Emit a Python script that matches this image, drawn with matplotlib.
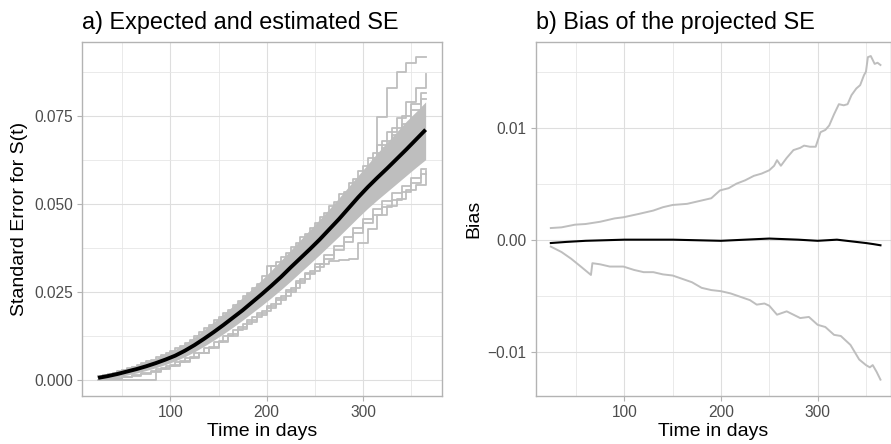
import matplotlib
matplotlib.use("Agg")
import matplotlib.pyplot as plt
import numpy as np

plt.rcParams['font.family'] = ['Liberation Sans', 'DejaVu Sans']

# ---------------- Panel a data ----------------
t_grid = [25, 35, 45, 55, 65, 75, 85, 95, 105, 115, 125, 135, 145, 155, 165, 175,
          185, 195, 205, 215, 225, 235, 245, 255, 265, 275, 285, 295, 305, 315,
          325, 335, 345, 355, 365]
t_grid_b = [30, 40, 50, 60, 70, 80, 90, 100, 110, 120, 130, 140, 150, 160, 170, 180,
            190, 200, 210, 220, 230, 240, 250, 260, 270, 280, 290, 300, 310, 320,
            330, 340, 350, 360, 365]

se_expected = [.0006, .0011, .0017, .0024, .0031, .0039, .0048, .0058, .0069, .0083,
               .0099, .0117, .0136, .0156, .0177, .0198, .0221, .0244, .0268, .0293,
               .0320, .0346, .0372, .0399, .0428, .0457, .0488, .0519, .0548, .0575,
               .0601, .0628, .0655, .0683, .0711]

# dense core of the simulated SE curves (lower / upper edge of the solid band)
se_core_lo = [.0002, .0005, .0009, .0014, .0020, .0027, .0035, .0044, .0054, .0066,
              .0080, .0096, .0113, .0131, .0150, .0170, .0191, .0212, .0234, .0257,
              .0281, .0306, .0331, .0356, .0382, .0408, .0435, .0462, .0488, .0512,
              .0535, .0558, .0581, .0604, .0626]
se_core_hi = [.0010, .0016, .0024, .0032, .0041, .0051, .0062, .0074, .0087, .0103,
              .0122, .0143, .0165, .0187, .0210, .0234, .0259, .0285, .0312, .0340,
              .0369, .0398, .0427, .0456, .0486, .0517, .0549, .0581, .0613, .0645,
              .0675, .0705, .0735, .0762, .0790]

# individual simulated SE step curves (read from the band)
se_sim_u1 = [.0011, .0018, .0026, .0034, .0043, .0053, .0064, .0076, .0090, .0106,
             .0125, .0147, .0170, .0190, .0212, .0238, .0262, .0295, .0325, .0350,
             .0378, .0405, .0432, .0462, .0495, .0528, .0560, .0595, .0632, .0668,
             .0705, .0745, .0790, .0830, .0870]
se_sim_l1 = [.0000, .0000, .0000, .0000, .0000, .0000, .0030, .0040, .0050, .0062,
             .0076, .0092, .0108, .0124, .0142, .0160, .0178, .0196, .0216, .0238,
             .0262, .0286, .0310, .0330, .0338, .0340, .0345, .0390, .0430, .0470,
             .0495, .0515, .0540, .0555, .0595]
se_sim_out = [.0009, .0016, .0024, .0031, .0039, .0047, .0058, .0070, .0082, .0096,
              .0112, .0131, .0150, .0170, .0192, .0214, .0238, .0263, .0290, .0316,
              .0345, .0372, .0398, .0426, .0456, .0488, .0520, .0560, .0600, .0748,
              .0830, .0876, .0900, .0918, .0918]
se_sim_ub1 = [.0014, .0021, .0029, .0038, .0048, .0058, .0070, .0082, .0097, .0115,
              .0135, .0157, .0178, .0200, .0224, .0248, .0274, .0325, .0335, .0360,
              .0388, .0415, .0445, .0475, .0505, .0535, .0570, .0608, .0645, .0680,
              .0715, .0750, .0785, .0815, .0815]
se_sim_lb1 = [.0002, .0004, .0008, .0012, .0018, .0024, .0032, .0040, .0050, .0062,
              .0076, .0092, .0108, .0126, .0145, .0164, .0184, .0205, .0226, .0250,
              .0275, .0300, .0322, .0345, .0368, .0392, .0418, .0445, .0470, .0490,
              .0510, .0535, .0560, .0585, .0585]
se_sim_ub2 = [.0012, .0019, .0027, .0036, .0045, .0055, .0067, .0079, .0093, .0110,
              .0129, .0150, .0172, .0194, .0217, .0240, .0266, .0292, .0318, .0346,
              .0374, .0403, .0432, .0462, .0492, .0522, .0556, .0590, .0625, .0660,
              .0695, .0728, .0766, .0798, .0798]
se_sim_lb2 = [.0002, .0005, .0009, .0013, .0019, .0026, .0034, .0043, .0053, .0064,
              .0078, .0094, .0112, .0130, .0150, .0170, .0190, .0210, .0232, .0255,
              .0280, .0305, .0330, .0355, .0380, .0405, .0432, .0458, .0485, .0508,
              .0530, .0552, .0575, .0600, .0600]

# ---------------- Panel b data ----------------
t_up = [24, 35, 49, 60, 75, 90, 99, 115, 130, 140, 150, 165, 180, 190, 199, 208, 216,
        225, 234, 242, 250, 255, 258, 262, 268, 275, 282, 286, 292, 298, 303, 308,
        312, 317, 322, 327, 331, 335, 340, 344, 348, 350, 352, 355, 359, 362, 365]
bias_up = [.00104, .0011, .00134, .0014, .0016, .0019, .0020, .0023, .0026, .0029,
           .0031, .0032, .0035, .0037, .0044, .0046, .0050, .0053, .0057, .0059,
           .0062, .0066, .0071, .0066, .0073, .0080, .0082, .0084, .0083, .0083,
           .0096, .0098, .0102, .0112, .0121, .0120, .0121, .0129, .0135, .0138,
           .0147, .0150, .0163, .0164, .0157, .0158, .0156]

t_lo = [24, 35, 45, 55, 65.5, 67, 75, 85, 99, 110, 120, 130, 140, 150, 160, 170, 180,
        190, 200, 210, 220, 230, 237, 245, 250, 258, 268, 275, 282, 291, 300, 308,
        317, 324, 334, 343, 350, 354, 357, 361, 365]
bias_lo = [-.00062, -.0011, -.0017, -.0024, -.00315, -.0021, -.0022, -.0024, -.0024,
           -.0027, -.0029, -.0029, -.0031, -.0032, -.0035, -.0038, -.0043, -.0045,
           -.0046, -.0048, -.0051, -.0054, -.0058, -.0057, -.0059, -.0067, -.0064,
           -.0067, -.0070, -.0069, -.0076, -.0078, -.0085, -.0086, -.0094, -.0107,
           -.0112, -.0114, -.0112, -.0118, -.0125]

t_mean = [24, 40, 60, 100, 150, 200, 250, 280, 300, 320, 340, 350, 358, 365]
bias_mean = [-.0003, -.0002, -.0001, .0000, .0000, -.0001, .0001, .0000, -.0001,
             .0000, -.0002, -.0003, -.0004, -.0005]

GRAY = '#BEBEBE'
W, H = 891, 444
fig = plt.figure(figsize=(W / 100, H / 100), dpi=100)

def style(ax, xlim, ylim, xmaj, xmin, ymaj, ymin, ylabels):
    ax.set_xlim(*xlim)
    ax.set_ylim(*ylim)
    ax.set_xticks(xmaj)
    ax.set_xticks(xmin, minor=True)
    ax.set_yticks(ymaj)
    ax.set_yticks(ymin, minor=True)
    ax.set_yticklabels(ylabels)
    ax.grid(which='major', color='#DEDEDE', lw=0.8)
    ax.grid(which='minor', color='#E6E6E6', lw=0.6)
    ax.set_axisbelow(True)
    for s in ax.spines.values():
        s.set_color('#B3B3B3')
        s.set_linewidth(1.0)
    ax.tick_params(which='major', length=3.5, width=0.8, color='#B3B3B3',
                   labelsize=11.2, labelcolor='#4D4D4D', pad=3)
    ax.tick_params(which='minor', length=0)
    ax.set_xlabel('Time in days', fontsize=14, labelpad=2)

# Panel a
ax1 = fig.add_axes([81.7 / W, 1 - 396 / H, (442.3 - 81.7) / W, (396 - 41.7) / H])
ax1.fill_between(t_grid, se_core_lo, se_core_hi, color=GRAY, lw=0)
for s in [se_sim_l1, se_sim_u1, se_sim_out]:
    ax1.plot(t_grid, s, drawstyle='steps-post', color=GRAY, lw=1.3)
for s in [se_sim_ub1, se_sim_lb1, se_sim_ub2, se_sim_lb2]:
    ax1.plot(t_grid_b, s, drawstyle='steps-post', color=GRAY, lw=1.3)
ax1.plot(t_grid, se_expected, color='black', lw=2.8, solid_capstyle='butt')
style(ax1, (8.0, 382.3), (-0.00455, 0.0961), [100, 200, 300], [50, 150, 250, 350],
      [0, 0.025, 0.05, 0.075], [0.0125, 0.0375, 0.0625, 0.0875],
      ['0.000', '0.025', '0.050', '0.075'])
ax1.set_ylabel('Standard Error for S(t)', fontsize=14, labelpad=4)
ax1.set_title('a) Expected and estimated SE', loc='left', fontsize=16.8, pad=9)

# Panel b
ax2 = fig.add_axes([535.7 / W, 1 - 396 / H, (890.7 - 535.7) / W, (396 - 41.7) / H])
ax2.plot(t_up, bias_up, color=GRAY, lw=1.4)
ax2.plot(t_lo, bias_lo, color=GRAY, lw=1.4)
ax2.plot(t_mean, bias_mean, color='black', lw=1.5)
style(ax2, (8.35, 375.6), (-0.01396, 0.01768), [100, 200, 300], [50, 150, 250, 350],
      [-0.01, 0, 0.01], [-0.005, 0.005, 0.015],
      ['\u22120.01', '0.00', '0.01'])
ax2.set_ylabel('Bias', fontsize=14, labelpad=4)
ax2.set_title('b) Bias of the projected SE', loc='left', fontsize=16.8, pad=9)

fig.savefig('out.png', dpi=100)
